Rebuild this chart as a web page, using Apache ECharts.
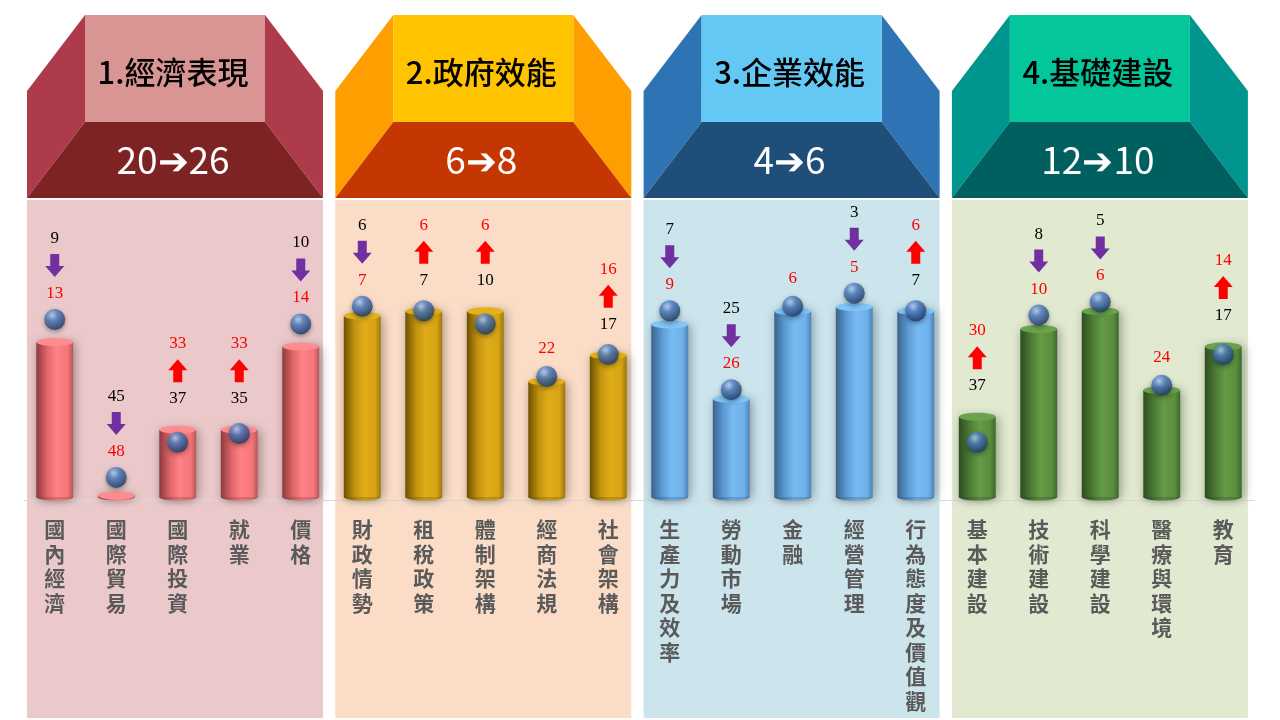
<!DOCTYPE html>
<html>
<head>
<meta charset="utf-8">
<script src="https://cdn.jsdelivr.net/npm/echarts@6/dist/echarts.min.js"></script>
<style>
html, body { margin: 0; padding: 0; background: #fff; }
#main { width: 1280px; height: 720px; }
</style>
</head>
<body>
<div id="main"></div>
<script>
// IMD rankings: previous year vs current year
var categories = ['國內經濟', '國際貿易', '國際投資', '就業', '價格',
    '財政情勢', '租稅政策', '體制架構', '經商法規', '社會架構',
    '生產力及效率', '勞動市場', '金融', '經營管理', '行為態度及價值觀',
    '基本建設', '技術建設', '科學建設', '醫療與環境', '教育'];
var prevRank = [9, 45, 37, 35, 10, 6, 7, 10, 22, 17, 7, 25, 6, 3, 7, 37, 8, 5, 24, 17];
var curRank = [13, 48, 33, 33, 14, 7, 6, 6, 22, 16, 9, 26, 6, 5, 6, 30, 10, 6, 24, 14];

var groupNames = ['1.經濟表現', '2.政府效能', '3.企業效能', '4.基礎建設'];
var groupPrev = [20, 6, 4, 12];
var groupCur = [26, 8, 6, 10];

var RANK_MAX = 49;

var panelBg = ['#EBC9CA', '#FBDDC7', '#CCE5ED', '#E1EAD0'];
var headSide = ['#AD3B4B', '#FF9E00', '#2E74B5', '#00968F'];
var headTop = ['#D99594', '#FFC300', '#64C8F5', '#03C69B'];
var headBottom = ['#7E2323', '#C43702', '#1F4E79', '#005F5F'];

var barColors = [
    { body: ['#8C3A3D', '#E0676B', '#FF8286', '#F57679', '#B5565A'], top: '#FF8D90' },
    { body: ['#6E5000', '#C49410', '#E0AC18', '#D8A415', '#9C7608'], top: '#E3B21C' },
    { body: ['#3B628C', '#5C9CD6', '#78BAF2', '#6EB0EA', '#4D82B8'], top: '#80C4F8' },
    { body: ['#2D4D21', '#4C7C35', '#659A46', '#5A8E3E', '#3D682B'], top: '#6BA34C' }
];

var RED = '#FF0000';
var PURPLE = '#7030A0';

var myChart = echarts.init(document.getElementById('main'));

var graphics = [];
for (var g = 0; g < 4; g++) {
    var x0 = 27 + g * 308.3;
    var x1 = x0 + 296;
    var ix0 = x0 + 58, ix1 = x1 - 58;
    graphics.push({
        type: 'rect', z: -10,
        shape: { x: x0, y: 200, width: 296, height: 518 },
        style: { fill: panelBg[g] }
    });
    graphics.push({
        type: 'polygon', z: -10,
        shape: { points: [[ix0, 15], [x0, 91], [x0, 198], [ix0, 122]] },
        style: { fill: headSide[g] }
    });
    graphics.push({
        type: 'polygon', z: -10,
        shape: { points: [[ix1, 15], [x1, 91], [x1, 198], [ix1, 122]] },
        style: { fill: headSide[g] }
    });
    graphics.push({
        type: 'rect', z: -10,
        shape: { x: ix0, y: 15, width: ix1 - ix0, height: 107 },
        style: { fill: headTop[g] }
    });
    graphics.push({
        type: 'polygon', z: -10,
        shape: { points: [[ix0, 122], [ix1, 122], [x1, 198], [x0, 198]] },
        style: { fill: headBottom[g] }
    });
    graphics.push({
        type: 'text', z: -9,
        x: (x0 + x1) / 2 - 2, y: 72,
        style: {
            text: groupNames[g], fill: '#000',
            font: '500 31px "Noto Sans CJK TC"',
            align: 'center', verticalAlign: 'middle'
        }
    });
    graphics.push({
        type: 'text', z: -9,
        x: (x0 + x1) / 2 - 2, y: 160,
        style: {
            text: groupPrev[g] + '➔' + groupCur[g], fill: '#fff',
            font: '37px "Noto Sans CJK TC"',
            align: 'center', verticalAlign: 'middle'
        }
    });
}

function renderCylinder(params, api) {
    var i = api.value(0);
    var top = api.coord([i, api.value(1)]);
    var base = api.coord([i, RANK_MAX]);
    var w = api.size([1, 0])[0] * 0.6;
    var c = barColors[Math.floor(i / 5)];
    var stops = [0, 0.3, 0.55, 0.85, 1].map(function (o, k) {
        return { offset: o, color: c.body[k] };
    });
    var grad = new echarts.graphic.LinearGradient(0, 0, 1, 0, stops);
    var bottomY = base[1] - 3;
    return {
        type: 'group',
        children: [
            {
                type: 'ellipse',
                shape: { cx: top[0], cy: bottomY, rx: w / 2, ry: 3.5 },
                style: { fill: grad, shadowBlur: 8, shadowColor: 'rgba(0,0,0,0.35)' }
            },
            {
                type: 'rect',
                shape: { x: top[0] - w / 2, y: top[1], width: w, height: Math.max(bottomY - top[1], 0) },
                style: { fill: grad, shadowBlur: 10, shadowColor: 'rgba(0,0,0,0.35)', shadowOffsetX: 2 }
            },
            {
                type: 'ellipse',
                shape: { cx: top[0], cy: top[1], rx: w / 2, ry: 4 },
                style: { fill: c.top }
            }
        ]
    };
}

function arrowPoints(x, cy, up) {
    var s = up ? -1 : 1;
    return [
        [x - 4.5, cy - 11.5 * s], [x + 4.5, cy - 11.5 * s], [x + 4.5, cy + 0.5 * s],
        [x + 9.5, cy + 0.5 * s], [x, cy + 11.5 * s], [x - 9.5, cy + 0.5 * s], [x - 4.5, cy + 0.5 * s]
    ];
}

function numText(v, color, x, y) {
    return {
        type: 'text', x: x, y: y,
        style: {
            text: String(v), fill: color,
            font: '17px "Liberation Serif"',
            align: 'center', verticalAlign: 'middle'
        }
    };
}

function renderLabels(params, api) {
    var i = api.value(0), cur = api.value(1), prev = api.value(2);
    var p = api.coord([i, Math.min(cur, prev)]);
    var x = p[0], y = p[1];
    var children = [];
    if (cur === prev) {
        children.push(numText(cur, RED, x, y - 33));
    } else {
        var up = cur < prev;
        children.push(numText(up ? cur : prev, up ? RED : '#000', x, y - 86));
        children.push({
            type: 'polygon',
            shape: { points: arrowPoints(x, y - 59, up) },
            style: { fill: up ? RED : PURPLE }
        });
        children.push(numText(up ? prev : cur, up ? '#000' : RED, x, y - 31));
    }
    return { type: 'group', children: children };
}

var barData = categories.map(function (c, i) { return [i, curRank[i], prevRank[i]]; });
var ballData = categories.map(function (c, i) { return [i, prevRank[i]]; });

var option = {
    animation: false,
    graphic: { elements: graphics },
    grid: { left: 24, width: 1230, top: 285, height: 215 },
    xAxis: {
        type: 'category',
        data: categories,
        axisLine: { onZero: false, lineStyle: { color: '#D9D9D9', width: 1 } },
        axisTick: { show: false },
        axisLabel: {
            interval: 0,
            margin: 17,
            color: '#5A5A5A',
            fontSize: 21,
            fontWeight: 'bold',
            lineHeight: 24.5,
            fontFamily: 'Noto Sans CJK TC',
            verticalAlign: 'top',
            formatter: function (v) { return v.split('').join('\n'); }
        }
    },
    yAxis: {
        type: 'value',
        inverse: true,
        min: 0,
        max: RANK_MAX,
        show: false
    },
    series: [
        {
            type: 'custom',
            renderItem: renderCylinder,
            data: barData,
            encode: { x: 0, y: 1 },
            z: 2
        },
        {
            type: 'scatter',
            data: ballData,
            symbol: 'circle',
            symbolSize: 21,
            symbolOffset: [0, -5],
            itemStyle: {
                color: {
                    type: 'radial', x: 0.38, y: 0.3, r: 0.75,
                    colorStops: [
                        { offset: 0, color: '#BCD6F6' },
                        { offset: 0.35, color: '#4F81C7' },
                        { offset: 1, color: '#1A335E' }
                    ]
                },
                shadowBlur: 5,
                shadowColor: 'rgba(0,0,0,0.45)',
                shadowOffsetY: 2
            },
            z: 3
        },
        {
            type: 'custom',
            renderItem: renderLabels,
            data: barData,
            encode: { x: 0, y: 1 },
            z: 4
        }
    ]
};

myChart.setOption(option);
</script>
</body>
</html>
